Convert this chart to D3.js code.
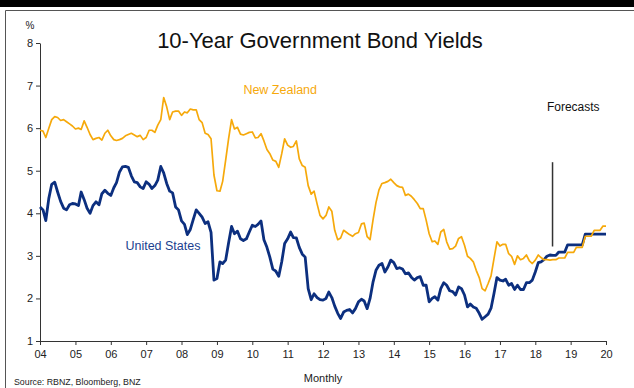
<!DOCTYPE html>
<html>
<head>
<meta charset="utf-8">
<script src="https://cdn.jsdelivr.net/npm/d3@7"></script>
<style>
  body { margin: 0; background: #fff; }
  svg { display: block; font-family: Arial, "Liberation Sans", sans-serif; }
  .axis path, .axis line { stroke: #333; }
  .axis text { font-size: 11px; fill: #222; }
</style>
</head>
<body>
<div id="chart-area"></div>
<script>
// monthly data, Jan 2004 onwards; forecasts from Jul 2018 (quarterly steps)
var startMonth = new Date(2004, 0, 1);

var nzYields = [
  5.95, 5.93, 5.78, 6.0, 6.2, 6.27, 6.25, 6.18, 6.2, 6.15, 6.1, 6.05,      // 2004
  5.98, 6.0, 5.97, 6.17, 6.02, 5.85, 5.73, 5.76, 5.78, 5.72, 5.88, 5.95,   // 2005
  5.82, 5.73, 5.71, 5.73, 5.76, 5.82, 5.85, 5.88, 5.84, 5.8, 5.83, 5.73,   // 2006
  5.78, 5.95, 5.95, 5.9, 6.07, 6.2, 6.72, 6.5, 6.2, 6.38, 6.4, 6.4,        // 2007
  6.3, 6.38, 6.36, 6.45, 6.43, 6.43, 6.2, 6.13, 5.88, 5.85, 5.75, 4.9,     // 2008
  4.53, 4.52, 4.75, 5.25, 5.75, 6.2, 5.98, 6.02, 5.86, 5.84, 5.87, 5.9,    // 2009
  5.91, 5.77, 5.78, 5.87, 5.7, 5.5, 5.4, 5.25, 5.22, 5.08, 5.4, 5.75,      // 2010
  5.6, 5.55, 5.57, 5.7, 5.28, 5.12, 5.08, 4.65, 4.45, 4.52, 4.22, 3.95,    // 2011
  3.87, 3.95, 4.15, 4.05, 3.6, 3.38, 3.42, 3.6, 3.55, 3.5, 3.46, 3.52,     // 2012
  3.55, 3.75, 3.77, 3.45, 3.38, 3.85, 4.25, 4.55, 4.7, 4.72, 4.75, 4.8,    // 2013
  4.72, 4.65, 4.62, 4.61, 4.42, 4.45, 4.4, 4.32, 4.23, 4.11, 4.11, 3.84,   // 2014
  3.52, 3.33, 3.35, 3.27, 3.56, 3.62, 3.33, 3.16, 3.17, 3.23, 3.41, 3.45,  // 2015
  3.25, 2.99, 2.94, 2.86, 2.66, 2.49, 2.23, 2.18, 2.35, 2.53, 2.94, 3.33,  // 2016
  3.23, 3.27, 3.27, 3.05, 2.99, 2.8, 3.0, 2.91, 2.94, 3.02, 2.88, 2.82,    // 2017
  2.9, 3.02, 2.96, 2.91, 2.91, 2.9, 2.91, 2.91, 2.95, 2.95, 2.95, 3.08,    // 2018
  3.08, 3.08, 3.2, 3.2, 3.2, 3.46, 3.46, 3.46, 3.6, 3.6, 3.6, 3.7,         // 2019
  3.7                                                                      // 2020
];

var usYields = [
  4.15, 4.08, 3.83, 4.35, 4.68, 4.73, 4.5, 4.28, 4.12, 4.08, 4.2, 4.23,    // 2004
  4.22, 4.18, 4.5, 4.32, 4.12, 4.0, 4.18, 4.27, 4.2, 4.46, 4.54, 4.47,     // 2005
  4.42, 4.6, 4.72, 4.97, 5.09, 5.1, 5.08, 4.88, 4.74, 4.72, 4.62, 4.58,    // 2006
  4.74, 4.68, 4.58, 4.65, 4.78, 5.1, 4.95, 4.7, 4.52, 4.48, 4.15, 4.08,    // 2007
  3.82, 3.74, 3.5, 3.62, 3.85, 4.08, 4.0, 3.91, 3.76, 3.8, 3.55, 2.43,     // 2008
  2.47, 2.86, 2.82, 2.9, 3.3, 3.69, 3.52, 3.58, 3.4, 3.36, 3.4, 3.56,      // 2009
  3.72, 3.69, 3.74, 3.82, 3.38, 3.2, 2.97, 2.69, 2.64, 2.52, 2.86, 3.29,   // 2010
  3.4, 3.56, 3.43, 3.42, 3.2, 3.04, 2.97, 2.23, 1.97, 2.11, 2.02, 1.97,    // 2011
  1.96, 2.0, 2.15, 2.02, 1.82, 1.65, 1.53, 1.68, 1.72, 1.74, 1.66, 1.76,   // 2012
  1.92, 1.98, 1.94, 1.76, 2.0, 2.39, 2.66, 2.78, 2.82, 2.62, 2.74, 2.9,    // 2013
  2.84, 2.7, 2.72, 2.69, 2.58, 2.6, 2.5, 2.43, 2.49, 2.51, 2.31, 2.31,     // 2014
  1.92, 2.0, 2.04, 1.96, 2.23, 2.37, 2.31, 2.18, 2.16, 2.08, 2.27, 2.23,   // 2015
  2.08, 1.8, 1.87, 1.8, 1.77, 1.65, 1.51, 1.57, 1.63, 1.77, 2.12, 2.49,    // 2016
  2.43, 2.41, 2.45, 2.31, 2.35, 2.21, 2.31, 2.21, 2.21, 2.37, 2.37, 2.43,  // 2017
  2.62, 2.84, 2.86, 2.91, 2.99, 3.02, 3.01, 3.01, 3.09, 3.09, 3.09, 3.26,  // 2018
  3.26, 3.26, 3.26, 3.26, 3.26, 3.51, 3.51, 3.51, 3.51, 3.51, 3.51, 3.51,  // 2019
  3.51                                                                     // 2020
];

var yTicks = [1, 2, 3, 4, 5, 6, 7, 8];
var forecastStart = new Date(2018, 5, 28);

var svgWidth = 634, svgHeight = 388;
var margin = { left:40, right:28, top:43, bottom:47 };
var width = svgWidth - margin.left - margin.right,
    height = svgHeight - margin.top - margin.bottom;

var svg = d3.select("#chart-area")
    .append("svg")
        .attr("width", svgWidth)
        .attr("height", svgHeight);

// frame
svg.append("rect")
    .attr("x", 0).attr("y", 0)
    .attr("width", svgWidth).attr("height", 7)
    .attr("fill", "#000");
svg.append("path")
    .attr("d", "M5.5," + svgHeight + "V10.5H" + svgWidth)
    .attr("fill", "none")
    .attr("stroke", "#555")
    .attr("stroke-width", 1);

var g = svg.append("g")
    .attr("transform", "translate(" + margin.left + ", " + margin.top + ")");

var xScale = d3.scaleTime()
    .domain([new Date(2004, 0, 1), new Date(2020, 0, 1)])
    .range([0, width]);

var yScale = d3.scaleLinear()
    .domain([1, 8])
    .range([height, 0]);

function toPoints(values) {
    return values.map(function(v, i) {
        return { date: d3.timeMonth.offset(startMonth, i), value: v };
    });
}

var xAxisCall = d3.axisBottom(xScale)
    .ticks(d3.timeYear.every(1))
    .tickSize(4)
    .tickSizeOuter(0)
    .tickFormat(d3.timeFormat("%y"));

g.append("g")
    .attr("class", "x axis")
    .attr("transform", "translate(0, " + height + ")")
    .call(xAxisCall)
  .selectAll("text")
    .attr("y", 9);

var yAxisCall = d3.axisLeft(yScale)
    .tickValues(yTicks)
    .tickSize(4)
    .tickSizeOuter(0)
    .tickFormat(d3.format("d"));

g.append("g")
    .attr("class", "y axis")
    .call(yAxisCall)
  .selectAll("text")
    .attr("x", -7);

var line = d3.line()
    .x(function(d) { return xScale(d.date); })
    .y(function(d) { return yScale(d.value); });

g.append("path")
    .attr("d", line(toPoints(usYields)))
    .attr("fill", "none")
    .attr("stroke", "#0c2f7f")
    .attr("stroke-width", 2.8)
    .attr("stroke-linejoin", "round");

g.append("path")
    .attr("d", line(toPoints(nzYields)))
    .attr("fill", "none")
    .attr("stroke", "#f6a90b")
    .attr("stroke-width", 1.7)
    .attr("stroke-linejoin", "round");

// forecast marker
g.append("line")
    .attr("x1", xScale(forecastStart)).attr("x2", xScale(forecastStart))
    .attr("y1", yScale(5.2)).attr("y2", yScale(3.22))
    .attr("stroke", "#333")
    .attr("stroke-width", 1.5);

g.append("text")
    .attr("x", xScale(new Date(2018, 4, 1)))
    .attr("y", yScale(6.4))
    .attr("font-size", "12px")
    .attr("fill", "#111")
    .text("Forecasts");

g.append("text")
    .attr("x", xScale(new Date(2009, 9, 1)))
    .attr("y", yScale(6.8))
    .attr("font-size", "12.5px")
    .attr("fill", "#f6a90b")
    .text("New Zealand");

g.append("text")
    .attr("x", xScale(new Date(2006, 5, 1)))
    .attr("y", yScale(3.14))
    .attr("font-size", "12.5px")
    .attr("fill", "#1b3f8f")
    .text("United States");

// titles
svg.append("text")
    .attr("x", 320)
    .attr("y", 48)
    .attr("font-size", "22px")
    .attr("text-anchor", "middle")
    .attr("fill", "#111")
    .text("10-Year Government Bond Yields");

svg.append("text")
    .attr("x", 30)
    .attr("y", 29)
    .attr("font-size", "10px")
    .attr("text-anchor", "middle")
    .attr("fill", "#222")
    .text("%");

svg.append("text")
    .attr("x", margin.left + width / 2)
    .attr("y", 382)
    .attr("font-size", "11px")
    .attr("text-anchor", "middle")
    .attr("fill", "#222")
    .text("Monthly");

svg.append("text")
    .attr("x", 14)
    .attr("y", 385)
    .attr("font-size", "8.8px")
    .attr("fill", "#222")
    .text("Source: RBNZ, Bloomberg, BNZ");
</script>
</body>
</html>
